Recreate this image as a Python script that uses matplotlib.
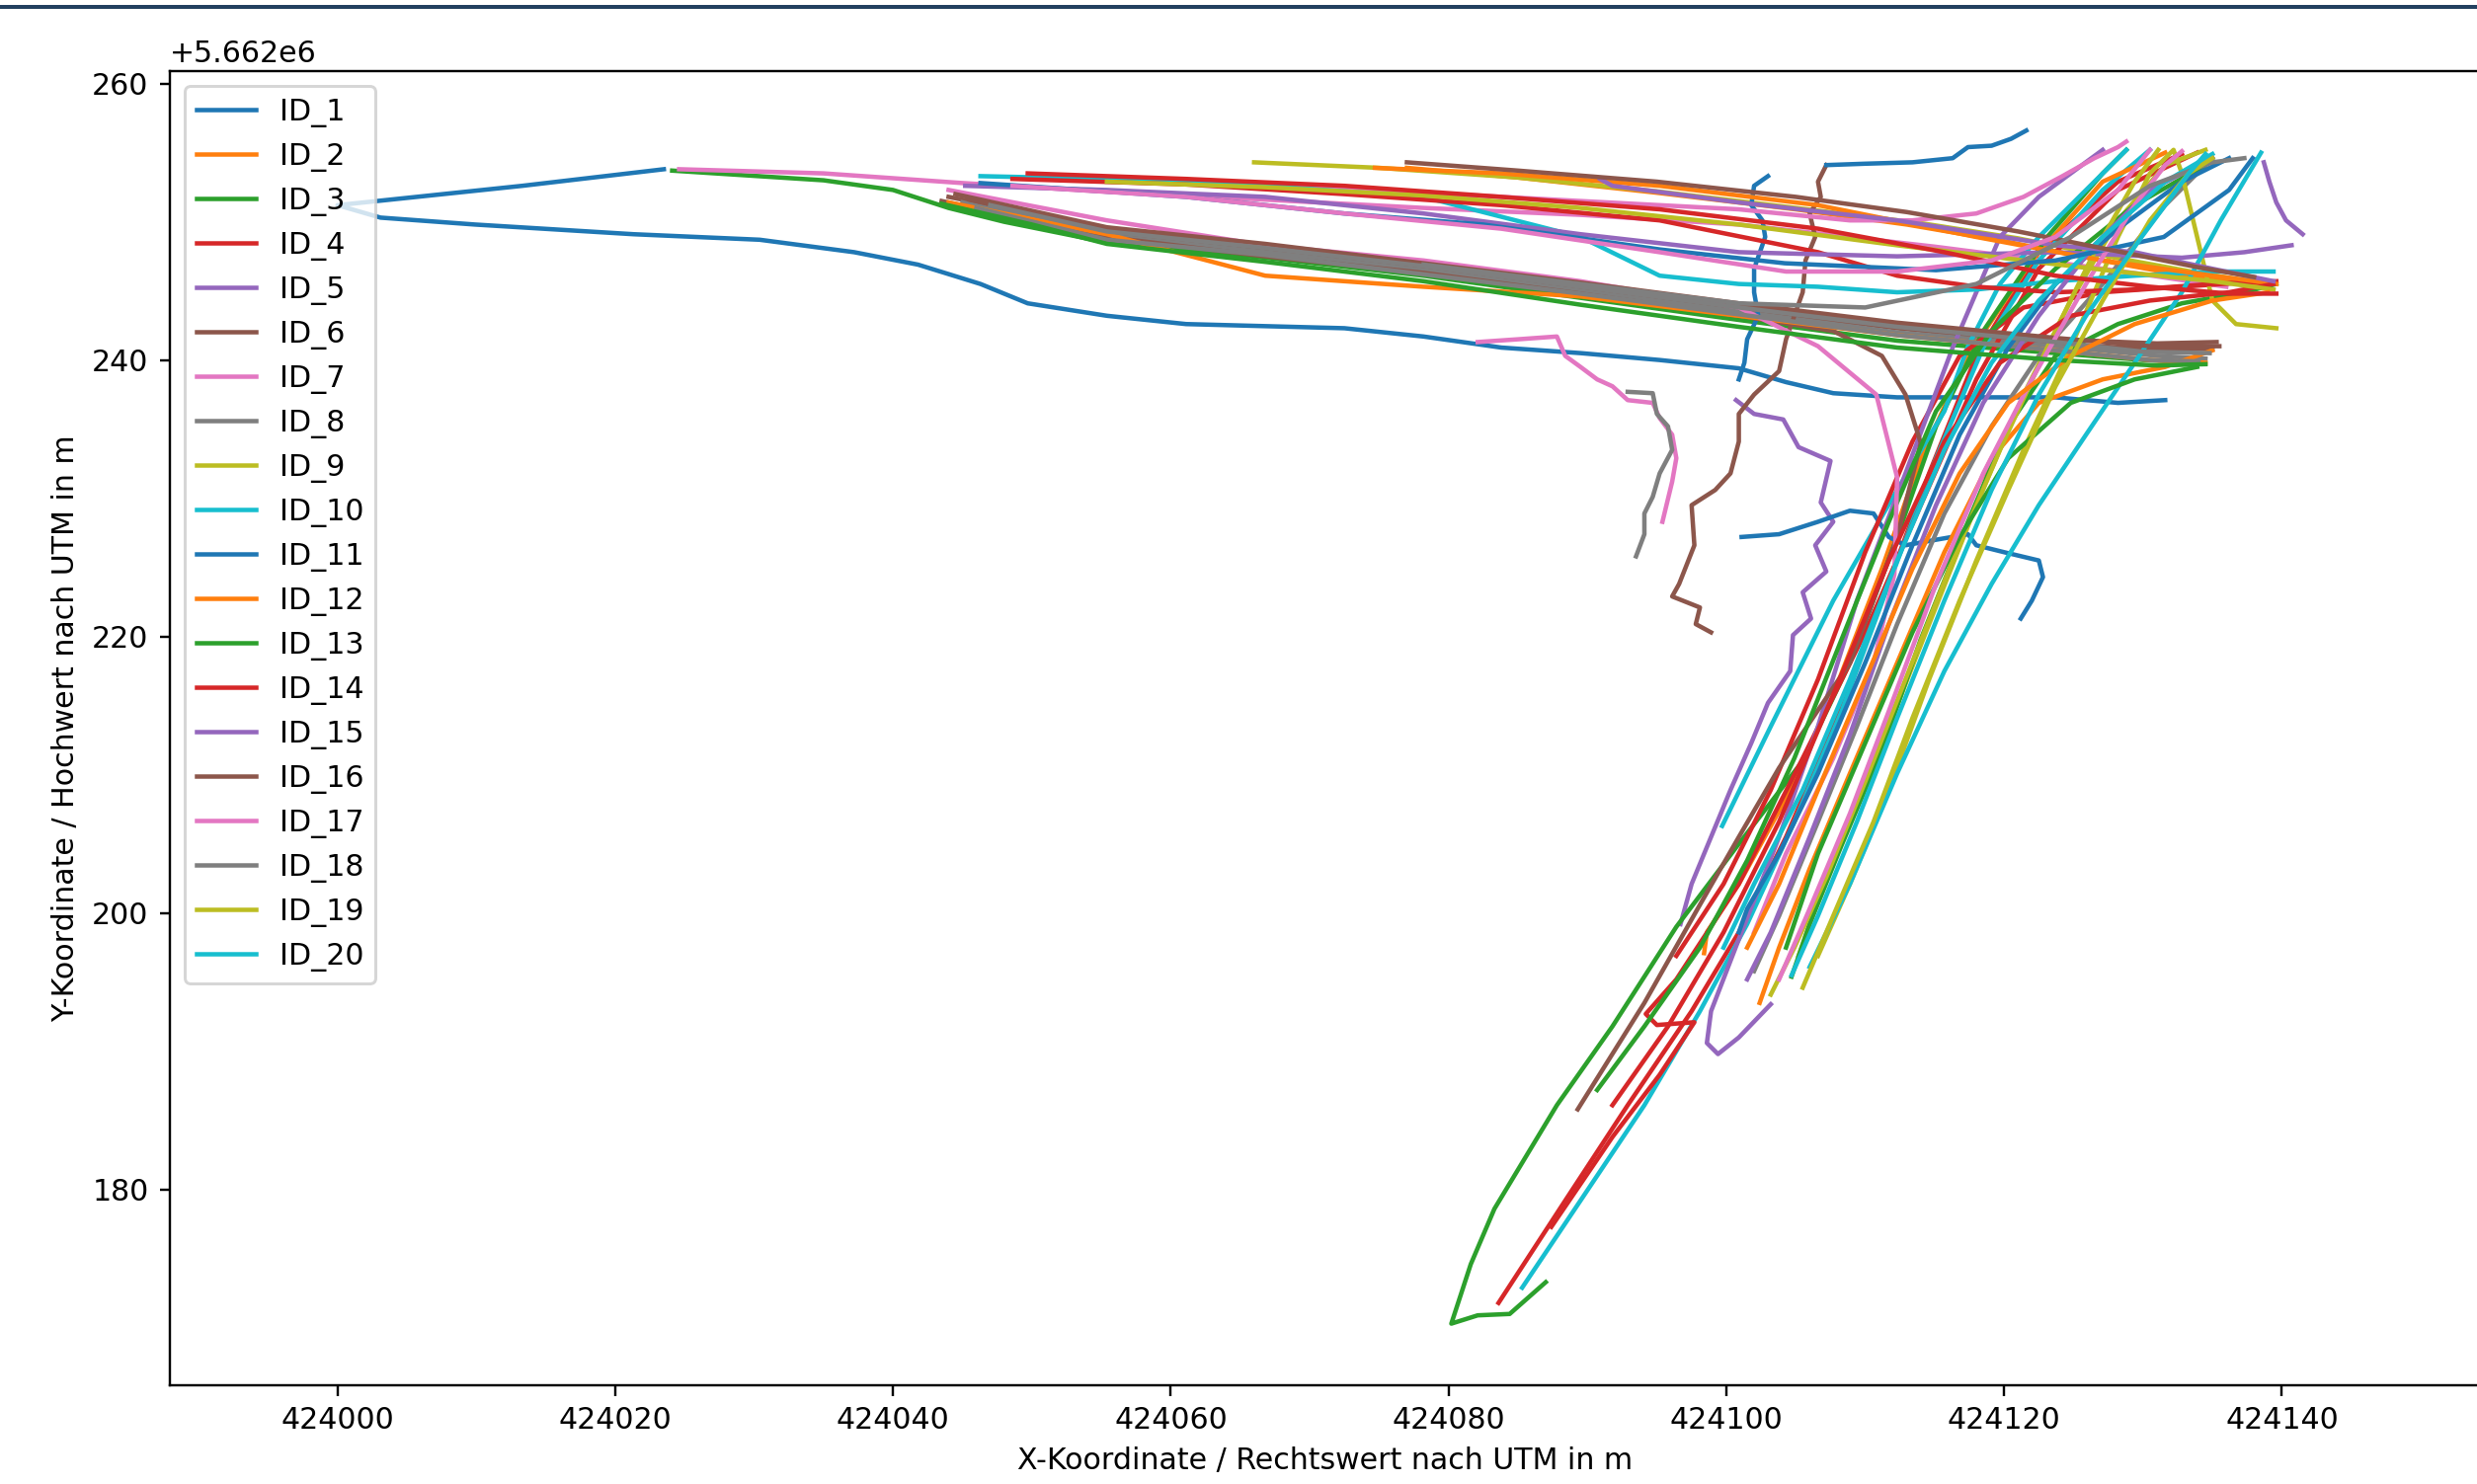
import matplotlib
matplotlib.use('Agg')
import matplotlib.pyplot as plt
from matplotlib.ticker import ScalarFormatter
from matplotlib.patches import Rectangle

# UTM base (tracks are stored as offsets in metres)
x0 = 424000
y0 = 5662000

# trajectories, (x offsets, y offsets)
t01 = ([23.5, 13.3, 0.0, 3.1, 9.9, 21.3, 30.4, 37.2, 41.8, 46.3, 49.7, 55.4, 61.1, 72.5, 78.2, 83.8, 89.5, 95.2, 100.9, 104.3, 107.7, 112.3, 119.1, 123.7, 128.2, 131.6],
       [253.8, 252.6, 251.2, 250.3, 249.8, 249.1, 248.7, 247.8, 246.9, 245.5, 244.1, 243.2, 242.6, 242.3, 241.7, 240.9, 240.5, 240.0, 239.4, 238.4, 237.6, 237.3, 237.3, 237.3, 236.9, 237.1])
t02 = ([77.0, 85, 95, 105, 113, 120, 127, 133, 138.5],
       [253.9, 253.2, 252.1, 250.9, 249.8, 248.6, 247.2, 246.1, 245.5])
t03 = ([24.1, 35, 40, 44, 48, 55.4, 66.8, 78.2, 89.5, 100.9, 112.3, 123.7, 130, 134],
       [253.7, 253.0, 252.3, 251.0, 250.0, 248.5, 247.4, 246.1, 244.5, 242.9, 241.4, 240.5, 240.0, 239.8])
t04 = ([83.6, 88.4, 92.9, 97.5, 100.9, 104.3, 107.7, 111.2, 114.6, 118.0, 122.5, 128.2, 132.8],
       [171.8, 179.2, 186.1, 192.9, 198.6, 205.5, 213.5, 222.6, 231.8, 240.3, 247.8, 252.9, 254.9])
t05 = ([100.7, 102.0, 104.1, 105.2, 107.5, 106.8, 107.7, 106.4, 107.2, 105.5, 106.1, 104.8, 104.6, 103.0, 101.8, 100.3, 98.9, 97.5, 96.7],
       [237.1, 236.1, 235.7, 233.7, 232.7, 229.7, 228.3, 226.6, 224.7, 223.2, 221.3, 220.1, 217.5, 215.2, 212.3, 208.9, 205.5, 202.1, 199.2])
t06 = ([44.0, 50, 55.4, 66.8, 78.2, 89.5, 100.9, 112.3, 123.7, 130, 135.0],
       [251.8, 250.6, 249.2, 248.0, 246.7, 245.2, 243.7, 242.3, 241.2, 240.8, 240.8])
t07 = ([24.6, 35, 45, 55, 66.8, 78.2, 89.5, 100.9, 108, 115, 122, 130, 136],
       [253.8, 253.5, 252.8, 252.2, 251.6, 251.0, 250.5, 249.8, 249.0, 248.2, 247.3, 246.2, 245.3])
t08 = ([45, 55.4, 66.8, 78.2, 89.5, 100.9, 112.3, 123.7, 131, 134.5],
       [251.4, 249.0, 247.8, 246.5, 245.0, 243.5, 242.0, 241.0, 240.3, 240.1])
t09 = ([66.0, 75, 85, 95, 105, 114, 121, 128, 134, 139],
       [254.3, 253.9, 253.2, 252.2, 251.0, 249.9, 248.8, 247.4, 246.3, 245.5])
t10 = ([85.3, 89.5, 94.1, 98.1, 101.5, 104.9, 108.3, 111.7, 115.1, 118.5, 122.5, 127.1, 130.5],
       [172.9, 179.2, 186.1, 192.9, 199.2, 206.6, 214.6, 223.8, 232.9, 240.9, 247.2, 252.3, 255.2])
t11 = ([103.0, 102.0, 101.8, 102.6, 102.8, 102.0, 102.0, 102.3, 101.5, 101.3, 100.9],
       [253.3, 252.6, 251.2, 250.1, 248.9, 246.6, 244.9, 243.2, 241.5, 239.8, 238.6])
t12 = ([98.4, 98.6, 100.9, 104.3, 107.7, 111.2, 114.0, 117.4, 122.0, 127.1, 131.6],
       [197.1, 198.6, 202.1, 208.3, 215.8, 224.9, 232.9, 240.3, 247.2, 252.9, 255.0])
t13 = ([87.0, 84.4, 82.1, 80.2, 81.6, 83.3, 87.8, 91.8, 96.4, 100.9, 105.5, 108.9, 112.3, 115.1, 118.5, 123.1, 127.1, 128.8],
       [173.3, 171.0, 170.9, 170.3, 174.6, 178.6, 186.1, 191.8, 199.0, 205.0, 211.0, 218.1, 227.2, 235.2, 242.1, 248.9, 253.5, 255.2])
t14 = ([133.9, 128.2, 122.5, 118.0, 114.0, 110.0, 105.5, 100.9, 96.4, 94.2, 95.0, 97.7, 95.2, 91.8, 87.4],
       [255.0, 252.3, 246.6, 238.6, 229.5, 220.3, 211.2, 202.1, 195.2, 192.7, 191.9, 192.1, 188.3, 183.8, 177.3])
t15 = ([138.7, 139.1, 139.6, 140.3, 141.5],
       [254.3, 252.9, 251.4, 250.1, 249.1])
t16 = ([107.2, 106.6, 106.8, 106.0, 106.4, 105.7, 105.5, 104.9, 104.3, 103.8, 102.0, 100.9, 100.9, 100.3, 99.2, 97.5, 97.7, 96.6, 96.1, 98.1, 97.8, 98.9],
       [254.1, 252.9, 251.8, 250.6, 248.9, 247.2, 244.9, 243.2, 241.5, 239.2, 237.5, 236.1, 234.1, 231.8, 230.6, 229.5, 226.6, 223.8, 222.9, 222.1, 220.9, 220.3])
t17 = ([82.1, 85.0, 87.8, 88.4, 89.5, 90.7, 91.8, 92.9, 94.7, 95.2, 96.1, 96.4, 96.1, 95.4],
       [241.3, 241.5, 241.7, 240.3, 239.5, 238.6, 238.1, 237.1, 236.9, 235.8, 234.6, 232.9, 231.2, 228.3])
t18 = ([92.9, 94.7, 95.0, 95.8, 96.1, 95.2, 94.7, 94.1, 94.1, 93.5],
       [237.7, 237.6, 236.1, 235.2, 233.5, 231.8, 230.1, 228.9, 227.4, 225.8])
t19 = ([105.2, 106.6, 108.9, 111.7, 114.6, 118.0, 121.4, 124.8, 128.2, 131.6, 134.5],
       [196.9, 200.9, 206.6, 213.5, 220.9, 229.5, 237.5, 244.3, 250.1, 254.1, 255.2])
t20 = ([99.7, 103.2, 107.7, 112.3, 115.7, 117.4, 119.7, 122.5, 127.1, 128.8],
       [206.3, 213.5, 222.6, 230.6, 236.3, 241.0, 245.5, 248.9, 253.5, 255.2])
t21 = ([101.1, 103.8, 106.6, 108.9, 110.6, 111.7, 112.9, 115.1, 117.4, 118.0, 120.0, 122.5, 122.8, 122.0, 121.2],
       [227.2, 227.4, 228.3, 229.1, 228.9, 227.2, 226.6, 227.0, 227.4, 226.6, 226.1, 225.5, 224.3, 222.6, 221.3])
t22 = ([102.4, 103.8, 106.0, 108.9, 112.3, 115.7, 119.1, 122.5, 127.1, 131.6, 135.0],
       [193.5, 197.5, 203.2, 210.1, 218.1, 226.1, 232.9, 236.9, 238.6, 239.5, 240.7])
t23 = ([104.7, 106.0, 108.3, 111.2, 114.0, 117.4, 120.3, 123.7, 128.2, 132.8, 137.3, 139.6],
       [195.4, 199.2, 204.9, 211.8, 219.8, 228.3, 235.2, 240.3, 242.6, 244.1, 244.9, 245.5])
t24 = ([96.4, 99.8, 103.2, 106.6, 110.0, 113.4, 116.8, 121.4, 127.1, 132.8, 138.5],
       [196.9, 202.1, 208.9, 216.9, 226.1, 234.1, 240.3, 243.8, 244.9, 245.3, 245.7])
t25 = ([127.1, 122.5, 119.7, 116.3, 112.9, 109.4, 106.6, 103.8, 100.9, 98.9, 98.6, 99.4, 100.9, 103.2],
       [255.2, 251.8, 248.9, 240.9, 231.8, 222.6, 213.5, 205.5, 198.1, 192.9, 190.6, 189.8, 191.0, 193.4])
t26 = ([43.5, 55.4, 66.8, 78.2, 89.5, 100.9, 107.7, 111.2, 112.9, 114.0, 112.3, 108.9, 103.8, 100.9, 98.1, 94.1, 89.3],
       [251.5, 248.9, 247.5, 246.3, 244.8, 243.2, 242.1, 240.3, 237.5, 234.0, 227.2, 218.1, 210.5, 205.5, 200.6, 193.5, 185.8])
t27 = ([55.4, 66.8, 78.2, 89.5, 100.9, 108.9, 113.4, 118.0, 121.4, 124.2, 126.5, 128.2, 128.8],
       [252.9, 252.6, 252.1, 251.5, 250.9, 250.1, 250.1, 250.6, 251.8, 253.3, 254.6, 255.4, 255.8])
t28 = ([102.0, 103.8, 106.6, 109.4, 112.3, 115.7, 119.1, 122.5, 127.1, 131.6, 135.0],
       [195.8, 199.8, 206.6, 213.5, 220.9, 228.9, 235.2, 240.3, 245.5, 251.2, 254.6])
t29 = ([106.6, 108.9, 111.7, 114.6, 118.0, 121.4, 124.8, 128.2, 130.5, 132.2, 132.8, 133.9, 135.0, 136.7, 139.6],
       [196.9, 202.1, 208.9, 216.9, 225.5, 233.5, 240.9, 248.9, 253.5, 255.2, 253.5, 248.9, 244.3, 242.6, 242.3])
t30 = ([46.3, 55.4, 66.8, 78.2, 89.5, 95.2, 100.9, 106.6, 112.3, 118.0, 123.7, 129.4, 135.0, 139.4],
       [253.3, 253.1, 252.6, 251.8, 248.9, 246.1, 245.5, 245.3, 244.9, 245.1, 245.7, 246.1, 246.4, 246.4])
t31 = ([107.2, 110.0, 113.4, 116.3, 117.4, 119.1, 120.5, 121.6],
       [254.1, 254.2, 254.3, 254.6, 255.4, 255.5, 256.0, 256.6])
t32 = ([44.0, 55.4, 66.8, 78.2, 89.5, 100.9, 112.3, 123.7, 130.5, 134.5],
       [251.4, 249.1, 246.1, 245.3, 244.6, 243.2, 241.8, 240.7, 240.0, 239.8])
t33 = ([90.7, 94.1, 98.1, 101.5, 104.9, 108.3, 111.7, 115.1, 119.1, 123.7, 129.4, 134.5],
       [187.2, 191.8, 197.5, 203.8, 211.2, 219.8, 228.3, 236.3, 242.1, 246.6, 251.2, 254.1])
t34 = ([48.6, 61.1, 72.5, 83.8, 95.2, 106.6, 112.3, 118.0, 123.7, 129.4, 135.0, 139.6],
       [253.1, 252.7, 252.0, 251.2, 250.1, 247.8, 246.1, 245.3, 244.9, 245.1, 245.5, 245.7])
t35 = ([45.2, 55.4, 66.8, 78.2, 89.5, 100.9, 112.3, 123.7, 132.8, 137.3, 140.7],
       [252.6, 252.3, 251.8, 250.6, 249.1, 247.8, 247.5, 247.8, 247.4, 247.8, 248.3])
t36 = ([45.5, 55.4, 66.8, 78.2, 89.5, 100.9, 112.3, 123.7, 131, 135.3],
       [251.6, 249.4, 248.2, 246.9, 245.4, 243.9, 242.6, 241.5, 241.2, 241.3])
t37 = ([44.0, 55.4, 66.8, 78.2, 89.5, 100.9, 106.6, 110.8, 112.3, 112.1, 110.6, 107.7, 104.3, 102.0],
       [252.3, 250.1, 248.3, 247.2, 245.7, 243.8, 241.0, 237.5, 231.5, 224.5, 218.1, 211.2, 204.3, 198.6])
t38 = ([46, 55.4, 66.8, 78.2, 89.5, 100.9, 112.3, 123.7, 130.5, 134.0],
       [251.0, 248.7, 247.6, 246.2, 244.8, 243.3, 241.8, 240.7, 240.0, 239.9])
t39 = ([103.2, 104.9, 107.2, 110.0, 112.9, 116.3, 119.7, 123.1, 126.5, 129.4, 131.1],
       [194.1, 197.5, 202.6, 209.5, 216.9, 225.5, 233.5, 240.9, 247.8, 252.9, 255.2])
t40 = ([138.5, 135.6, 132.8, 129.4, 125.9, 122.5, 119.1, 115.7, 112.3, 108.9, 106.0],
       [255.0, 250.1, 244.9, 239.8, 234.6, 229.5, 223.8, 217.5, 210.1, 202.1, 196.1])
t41 = ([100.9, 101.5, 103.8, 106.6, 110.0, 113.4, 116.8, 120.3, 123.7, 128.2, 132.8, 136.2],
       [198.6, 200.3, 204.3, 210.1, 218.1, 226.6, 234.6, 240.9, 245.5, 249.5, 252.9, 254.6])
t42 = ([74.7, 83.8, 95.2, 106.6, 118.0, 127.1, 135.0, 139.6],
       [253.9, 253.5, 252.6, 251.2, 248.9, 247.2, 246.1, 245.5])
t43 = ([104.3, 106.6, 110.0, 113.4, 116.8, 120.3, 124.8, 129.4, 133.9],
       [197.5, 204.3, 212.3, 220.3, 227.2, 232.9, 236.9, 238.6, 239.5])
t44 = ([91.8, 95.8, 99.8, 103.8, 107.7, 111.7, 115.7, 119.7, 124.8, 130.5, 136.2, 139.4],
       [186.1, 191.8, 198.6, 206.6, 215.8, 225.5, 234.1, 239.8, 243.2, 244.3, 244.9, 245.5])
t45 = ([101.5, 103.2, 106.0, 108.9, 111.7, 115.1, 118.5, 122.5, 126.5, 130.5, 135.0],
       [195.2, 198.6, 205.5, 212.9, 220.9, 229.5, 236.9, 243.2, 248.3, 252.3, 254.6])
t46 = ([44.5, 55.4, 66.8, 78.2, 89.5, 100.9, 112.3, 123.7, 130.5, 135.5],
       [252.0, 249.6, 248.4, 247.0, 245.6, 244.1, 242.7, 241.6, 241.0, 241.0])
t47 = ([103.8, 106.0, 108.9, 111.7, 115.1, 118.5, 122.0, 125.9, 129.4, 131.6, 132.8],
       [195.2, 200.3, 207.2, 214.6, 223.8, 231.8, 238.6, 245.5, 251.2, 254.1, 255.1])
t48 = ([47, 55.4, 66.8, 78.2, 89.5, 100.9, 112.3, 123.7, 130, 134.8],
       [251.2, 249.3, 248.1, 246.8, 245.3, 243.8, 242.4, 241.3, 240.6, 240.5])
t49 = ([55.4, 66.8, 78.2, 89.5, 100.9, 112.3, 121.4, 128.2, 135.0, 139.4],
       [252.9, 252.5, 251.9, 251.0, 249.8, 248.3, 247.2, 246.4, 245.7, 245.1])
t50 = ([99.8, 102.0, 105.5, 108.9, 112.3, 115.7, 119.1, 122.5, 127.1, 131.6, 135.0],
       [197.5, 202.1, 208.9, 216.9, 225.5, 233.5, 239.8, 244.3, 248.9, 252.9, 254.9])
t51 = ([46.3, 61.1, 72.5, 82.5, 95.2, 104.2, 115.1, 123.7, 131.5, 136.2, 137.9],
       [252.8, 251.8, 250.6, 249.8, 248.0, 247.0, 246.5, 247.2, 248.9, 252.3, 254.6])
t52 = ([101.5, 103.8, 106.6, 110.0, 113.4, 116.8, 120.3, 124.8, 129.4, 135.0, 139.0],
       [197.5, 202.1, 208.9, 216.9, 224.9, 231.8, 236.9, 240.3, 242.6, 244.3, 244.9])
t53 = ([43.5, 50, 55.4, 66.8, 78.2, 89.5, 100.9, 112.3, 123.7, 131, 134.5],
       [251.3, 249.8, 248.4, 247.1, 245.7, 244.0, 242.4, 240.9, 240.0, 239.6, 239.7])
t54 = ([49.7, 61.1, 72.5, 83.8, 95.2, 106.6, 115.7, 123.7, 130.5, 136.2, 139.6],
       [253.5, 253.1, 252.6, 251.8, 250.9, 249.5, 247.8, 246.1, 245.3, 244.8, 244.8])
t55 = ([90.9, 91.8, 100.9, 112.3, 123.7, 129.4, 135.0, 139.4],
       [253.1, 252.6, 251.4, 250.1, 248.3, 247.8, 246.6, 245.7])
t56 = ([77.0, 85, 95, 105, 113, 121, 128, 134, 138],
       [254.3, 253.7, 252.9, 251.8, 250.7, 249.3, 247.9, 246.7, 246.0])
t57 = ([48.6, 61.1, 72.5, 83.8, 95.2, 104.3, 112.3, 119.1, 123.7, 128.2, 130.5],
       [252.6, 251.8, 250.6, 249.5, 247.8, 246.4, 246.4, 247.2, 248.9, 252.3, 255.2])
t58 = ([78.2, 89.5, 100.9, 110.0, 118.0, 124.8, 130.5, 135.0, 137.3],
       [246.9, 245.5, 244.1, 243.8, 245.5, 248.9, 252.6, 254.3, 254.6])
t59 = ([105.5, 107.7, 110.6, 113.4, 116.8, 120.3, 123.7, 127.1, 130.5, 133.3, 135.0],
       [194.6, 199.8, 206.6, 214.1, 222.6, 230.6, 238.1, 244.3, 250.1, 253.5, 254.6])
t60 = ([104.7, 106.6, 109.4, 112.3, 115.7, 119.1, 122.5, 125.9, 129.9, 133.3, 134.5],
       [195.5, 199.8, 206.6, 214.1, 222.6, 230.6, 237.5, 243.2, 248.9, 253.5, 254.9])

tracks = [t01, t02, t03, t04, t05, t06, t07, t08, t09, t10,
          t11, t12, t13, t14, t15, t16, t17, t18, t19, t20,
          t21, t22, t23, t24, t25, t26, t27, t28, t29, t30,
          t31, t32, t33, t34, t35, t36, t37, t38, t39, t40,
          t41, t42, t43, t44, t45, t46, t47, t48, t49, t50,
          t51, t52, t53, t54, t55, t56, t57, t58, t59, t60]
n_labeled = 20

fig = plt.figure(figsize=(2508 / 216, 1503 / 216), dpi=216)
ax = fig.add_axes([0.0684, 0.0667, 0.9330, 0.8855])

for i, (xs, ys) in enumerate(tracks):
    lab = f'ID_{i + 1}' if i < n_labeled else '_nolegend_'
    ax.plot([x0 + v for v in xs], [y0 + v for v in ys], label=lab)

ax.set_xlim(423987.9, 424154.3)
ax.set_ylim(5662165.86, 5662260.91)
ax.set_xticks([424000, 424020, 424040, 424060, 424080, 424100, 424120, 424140])
ax.set_yticks([y0 + 180, y0 + 200, y0 + 220, y0 + 240, y0 + 260])
xf = ScalarFormatter(useOffset=False)
ax.xaxis.set_major_formatter(xf)
ax.set_xlabel('X-Koordinate / Rechtswert nach UTM in m')
ax.set_ylabel('Y-Koordinate / Hochwert nach UTM in m')
ax.legend(loc='upper left')

# dark band along the top edge of the screenshot
fig.add_artist(Rectangle((0, 1 - 9 / 1503), 1, 4 / 1503, transform=fig.transFigure,
                         color='#22405f', lw=0))

fig.savefig('out.png', dpi=216)
